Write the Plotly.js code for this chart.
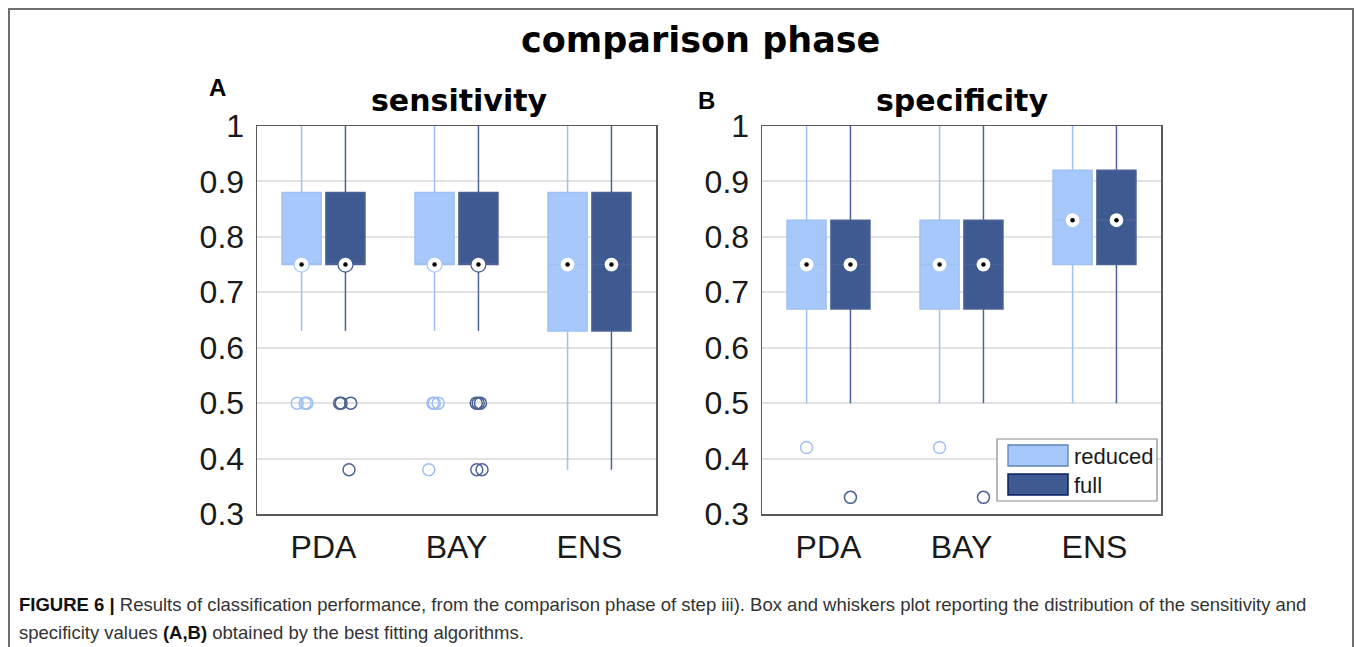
<!DOCTYPE html>
<html>
<head>
<meta charset="utf-8">
<script src="https://cdn.plot.ly/plotly-3.0.1.min.js"></script>
<style>
html,body{margin:0;padding:0;background:#fff;}
#chart{width:1357px;height:647px;}
</style>
</head>
<body>
<div id="chart"></div>
<script>
// ---------- data ----------
var categories = ['PDA', 'BAY', 'ENS'];
var seriesNames = ['reduced', 'full'];

// sensitivity (panel A)
var sensReducedQ1 = [0.75, 0.75, 0.63];
var sensReducedMedian = [0.75, 0.75, 0.75];
var sensReducedQ3 = [0.88, 0.88, 0.88];
var sensReducedLower = [0.63, 0.63, 0.38];
var sensReducedUpper = [1.0, 1.0, 1.0];
var sensReducedOutliers = [[0.5, 0.5, 0.5], [0.5, 0.5, 0.5, 0.38], []];

var sensFullQ1 = [0.75, 0.75, 0.63];
var sensFullMedian = [0.75, 0.75, 0.75];
var sensFullQ3 = [0.88, 0.88, 0.88];
var sensFullLower = [0.63, 0.63, 0.38];
var sensFullUpper = [1.0, 1.0, 1.0];
var sensFullOutliers = [[0.5, 0.5, 0.5, 0.38], [0.5, 0.5, 0.5, 0.38, 0.38], []];

// specificity (panel B)
var specReducedQ1 = [0.67, 0.67, 0.75];
var specReducedMedian = [0.75, 0.75, 0.83];
var specReducedQ3 = [0.83, 0.83, 0.92];
var specReducedLower = [0.5, 0.5, 0.5];
var specReducedUpper = [1.0, 1.0, 1.0];
var specReducedOutliers = [[0.42], [0.42], []];

var specFullQ1 = [0.67, 0.67, 0.75];
var specFullMedian = [0.75, 0.75, 0.83];
var specFullQ3 = [0.83, 0.83, 0.92];
var specFullLower = [0.5, 0.5, 0.5];
var specFullUpper = [1.0, 1.0, 1.0];
var specFullOutliers = [[0.33], [0.33], []];

var yTickVals = [0.3, 0.4, 0.5, 0.6, 0.7, 0.8, 0.9, 1];
var yTickText = ['0.3', '0.4', '0.5', '0.6', '0.7', '0.8', '0.9', '1'];

// ---------- styles ----------
var W = 1357, H = 647;
function px(x) { return x / W; }
function py(y) { return 1 - y / H; }

var style = {
  reduced: {fill: '#a6c8fa', line: '#9fc0f2', outline: '#a6c8fa'},
  full: {fill: '#3e5a91', line: '#4d6397', outline: '#3e5a91'}
};

function mainBox(name, q1, med, q3, lo, hi, outl, xa, ya) {
  var s = style[name];
  return {
    type: 'box', orientation: 'v',
    x: categories, q1: q1, median: med, q3: q3,
    lowerfence: lo, upperfence: hi, y: outl,
    xaxis: xa, yaxis: ya,
    name: name, alignmentgroup: 'g', offsetgroup: name,
    fillcolor: s.fill,
    line: {color: s.line, width: 1.5},
    whiskerwidth: 0,
    boxpoints: 'outliers', jitter: 0.35, pointpos: 0,
    marker: {symbol: 'circle', size: 12, color: 'rgba(255,255,255,0)',
             line: {color: s.line, width: 1.5}},
    showlegend: false, hoverinfo: 'skip'
  };
}

function medianMarks(name, med, xa, ya, kind) {
  var s = style[name];
  var mk = kind === 'ring'
    ? {symbol: 'circle', size: 15, color: '#ffffff', line: {color: s.outline, width: 1.2}}
    : {symbol: 'circle', size: 4.5, color: '#000000', line: {width: 0}};
  return {
    type: 'box', x: categories, y: med,
    xaxis: xa, yaxis: ya,
    name: name, alignmentgroup: 'g', offsetgroup: name,
    fillcolor: 'rgba(0,0,0,0)', line: {color: 'rgba(0,0,0,0)', width: 0},
    boxpoints: 'all', jitter: 0, pointpos: 0,
    marker: mk, showlegend: false, hoverinfo: 'skip'
  };
}

var traces = [
  mainBox('reduced', sensReducedQ1, sensReducedMedian, sensReducedQ3, sensReducedLower, sensReducedUpper, sensReducedOutliers, 'x', 'y'),
  mainBox('full', sensFullQ1, sensFullMedian, sensFullQ3, sensFullLower, sensFullUpper, sensFullOutliers, 'x', 'y'),
  medianMarks('reduced', sensReducedMedian, 'x', 'y', 'ring'),
  medianMarks('full', sensFullMedian, 'x', 'y', 'ring'),
  medianMarks('reduced', sensReducedMedian, 'x', 'y', 'dot'),
  medianMarks('full', sensFullMedian, 'x', 'y', 'dot'),
  mainBox('reduced', specReducedQ1, specReducedMedian, specReducedQ3, specReducedLower, specReducedUpper, specReducedOutliers, 'x2', 'y2'),
  mainBox('full', specFullQ1, specFullMedian, specFullQ3, specFullLower, specFullUpper, specFullOutliers, 'x2', 'y2'),
  medianMarks('reduced', specReducedMedian, 'x2', 'y2', 'ring'),
  medianMarks('full', specFullMedian, 'x2', 'y2', 'ring'),
  medianMarks('reduced', specReducedMedian, 'x2', 'y2', 'dot'),
  medianMarks('full', specFullMedian, 'x2', 'y2', 'dot')
];

var tickFont = {family: 'Liberation Sans, Arial, sans-serif', size: 32, color: '#1a1a1a'};

function xAxis(domain, anchor) {
  return {
    domain: domain, anchor: anchor, type: 'category',
    categoryorder: 'array', categoryarray: categories,
    range: [-0.5, 2.5], showgrid: false, zeroline: false,
    showline: true, mirror: true, linecolor: '#5a5a5a', linewidth: 1.5,
    ticks: '', tickfont: tickFont, ticklabelstandoff: 4, fixedrange: true
  };
}
function yAxis(domain, anchor) {
  return {
    domain: domain, anchor: anchor, range: [0.3, 1],
    tickmode: 'array', tickvals: yTickVals, ticktext: yTickText,
    showgrid: true, gridcolor: '#e2e2e2', gridwidth: 2, zeroline: false,
    showline: true, mirror: true, linecolor: '#5a5a5a', linewidth: 1.5,
    ticks: '', tickfont: tickFont, ticklabelstandoff: 5, fixedrange: true
  };
}

var yDom = [py(514), py(126)];

var capFont = {family: 'Liberation Sans, Arial, sans-serif', size: 18.5, color: '#333333'};

var annotations = [
  {text: '<b>comparison phase</b>', x: px(700), y: py(40), xref: 'paper', yref: 'paper',
   showarrow: false, xanchor: 'center', yanchor: 'middle',
   font: {family: 'DejaVu Sans, Verdana, sans-serif', size: 35, color: '#000'}},
  {text: '<b>sensitivity</b>', x: px(459), y: py(100), xref: 'paper', yref: 'paper',
   showarrow: false, xanchor: 'center', yanchor: 'middle',
   font: {family: 'DejaVu Sans, Verdana, sans-serif', size: 30, color: '#000'}},
  {text: '<b>specificity</b>', x: px(962), y: py(100), xref: 'paper', yref: 'paper',
   showarrow: false, xanchor: 'center', yanchor: 'middle',
   font: {family: 'DejaVu Sans, Verdana, sans-serif', size: 30, color: '#000'}},
  {text: '<b>A</b>', x: px(218), y: py(87), xref: 'paper', yref: 'paper',
   showarrow: false, xanchor: 'center', yanchor: 'middle',
   font: {family: 'Liberation Sans, Arial, sans-serif', size: 24, color: '#000'}},
  {text: '<b>B</b>', x: px(706), y: py(100), xref: 'paper', yref: 'paper',
   showarrow: false, xanchor: 'center', yanchor: 'middle',
   font: {family: 'Liberation Sans, Arial, sans-serif', size: 24, color: '#000'}},
  // legend labels
  {text: seriesNames[0], x: px(1072), y: py(456), xref: 'paper', yref: 'paper',
   showarrow: false, xanchor: 'left', yanchor: 'middle',
   font: {family: 'Liberation Sans, Arial, sans-serif', size: 22, color: '#1a1a1a'}},
  {text: seriesNames[1], x: px(1072), y: py(485), xref: 'paper', yref: 'paper',
   showarrow: false, xanchor: 'left', yanchor: 'middle',
   font: {family: 'Liberation Sans, Arial, sans-serif', size: 22, color: '#1a1a1a'}},
  // caption
  {text: '<b style="color:#111">FIGURE 6 |</b> Results of classification performance, from the comparison phase of step iii). Box and whiskers plot reporting the distribution of the sensitivity and',
   x: px(17), y: py(604), xref: 'paper', yref: 'paper', showarrow: false,
   xanchor: 'left', yanchor: 'middle', align: 'left', font: capFont},
  {text: 'specificity values <b style="color:#111">(A,B)</b> obtained by the best fitting algorithms.',
   x: px(17), y: py(632), xref: 'paper', yref: 'paper', showarrow: false,
   xanchor: 'left', yanchor: 'middle', align: 'left', font: capFont}
];

var shapes = [
  // figure frame
  {type: 'rect', xref: 'paper', yref: 'paper', x0: px(9), x1: px(1353), y0: py(700), y1: py(9),
   line: {color: '#6e6e6e', width: 2}, fillcolor: 'rgba(0,0,0,0)', layer: 'below'},
  // legend box
  {type: 'rect', xref: 'paper', yref: 'paper', x0: px(997), x1: px(1157), y0: py(501), y1: py(439),
   line: {color: '#8a8a8a', width: 1.2}, fillcolor: '#ffffff', layer: 'above'},
  {type: 'rect', xref: 'paper', yref: 'paper', x0: px(1008), x1: px(1068), y0: py(466), y1: py(445),
   line: {color: '#5f82b8', width: 1.3}, fillcolor: style.reduced.fill, layer: 'above'},
  {type: 'rect', xref: 'paper', yref: 'paper', x0: px(1008), x1: px(1068), y0: py(495), y1: py(474),
   line: {color: '#0a1f63', width: 1.5}, fillcolor: style.full.fill, layer: 'above'}
];

var layout = {
  width: W, height: H,
  margin: {l: 0, r: 0, t: 0, b: 0},
  paper_bgcolor: '#ffffff', plot_bgcolor: '#ffffff',
  boxmode: 'group', boxgap: 0.34, boxgroupgap: 0.11,
  showlegend: false,
  xaxis: xAxis([px(257), px(656)], 'y'),
  yaxis: yAxis(yDom, 'x'),
  xaxis2: xAxis([px(762), px(1161)], 'y2'),
  yaxis2: yAxis(yDom, 'x2'),
  annotations: annotations,
  shapes: shapes
};

Plotly.newPlot('chart', traces, layout, {staticPlot: true, displayModeBar: false});
</script>
</body>
</html>
